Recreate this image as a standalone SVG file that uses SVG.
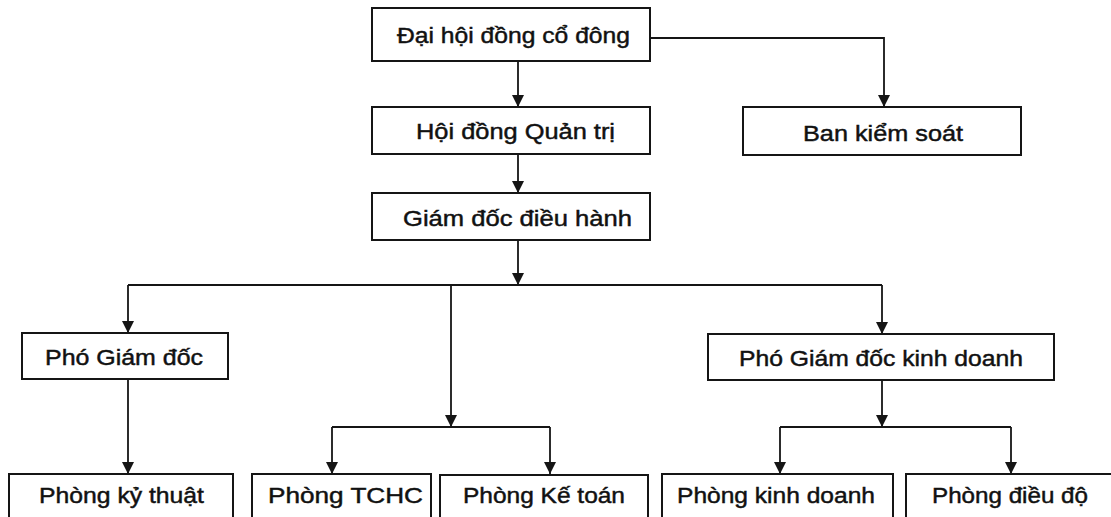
<svg xmlns="http://www.w3.org/2000/svg" width="1111" height="517" viewBox="0 0 1111 517">
<style>
.box{fill:#fff;stroke:#151515;stroke-width:2}
.lbl{font-family:"Liberation Sans",Arial,sans-serif;font-size:22px;fill:#111;stroke:#111;stroke-width:0.45;text-anchor:start}
.ln{fill:none;stroke:#151515;stroke-width:1.8}
</style>
<defs>
<marker id="ah" markerUnits="userSpaceOnUse" markerWidth="12" markerHeight="12" viewBox="0 0 12 12" refX="12" refY="6" orient="auto">
<path d="M0,0 L12,6 L0,12 Z" fill="#151515"/>
</marker>
</defs>
<rect width="1111" height="517" fill="#fff"/>
<g id="connectors">
<path class="ln" d="M518,61 V107" marker-end="url(#ah)"/>
<path class="ln" d="M518,154 V193" marker-end="url(#ah)"/>
<path class="ln" d="M650,38 H884 V107" marker-end="url(#ah)"/>
<path class="ln" d="M518,240 V285" marker-end="url(#ah)"/>
<path class="ln" d="M128,285 H882"/>
<path class="ln" d="M128,285 V333" marker-end="url(#ah)"/>
<path class="ln" d="M882,285 V334" marker-end="url(#ah)"/>
<path class="ln" d="M451,285 V427" marker-end="url(#ah)"/>
<path class="ln" d="M332,427 H550"/>
<path class="ln" d="M332,427 V474" marker-end="url(#ah)"/>
<path class="ln" d="M550,427 V474" marker-end="url(#ah)"/>
<path class="ln" d="M128,379 V474" marker-end="url(#ah)"/>
<path class="ln" d="M882,380 V427" marker-end="url(#ah)"/>
<path class="ln" d="M780,427 H1011"/>
<path class="ln" d="M780,427 V474" marker-end="url(#ah)"/>
<path class="ln" d="M1011,427 V474" marker-end="url(#ah)"/>
</g>
<g id="n-dhdcd">
<rect class="box" x="372" y="8" width="278" height="53"/>
<text class="lbl" x="397" y="43" font-size="24" textLength="233" lengthAdjust="spacingAndGlyphs">Đại hội đồng cổ đông</text>
</g>
<g id="n-hdqt">
<rect class="box" x="372" y="107" width="278" height="47"/>
<text class="lbl" x="416" y="139" textLength="199" lengthAdjust="spacingAndGlyphs">Hội đồng Quản trị</text>
</g>
<g id="n-bks">
<rect class="box" x="743" y="107" width="278" height="48"/>
<text class="lbl" x="803" y="141" textLength="160" lengthAdjust="spacingAndGlyphs">Ban kiểm soát</text>
</g>
<g id="n-gddh">
<rect class="box" x="372" y="193" width="278" height="47"/>
<text class="lbl" x="403" y="226" textLength="229" lengthAdjust="spacingAndGlyphs">Giám đốc điều hành</text>
</g>
<g id="n-pgd">
<rect class="box" x="22" y="333" width="206" height="46"/>
<text class="lbl" x="45" y="365" textLength="158" lengthAdjust="spacingAndGlyphs">Phó Giám đốc</text>
</g>
<g id="n-pgdkd">
<rect class="box" x="708" y="334" width="346" height="46"/>
<text class="lbl" x="739" y="366" textLength="284" lengthAdjust="spacingAndGlyphs">Phó Giám đốc kinh doanh</text>
</g>
<g id="n-pkt">
<rect class="box" x="9" y="474" width="224" height="52"/>
<text class="lbl" x="39" y="503" textLength="165" lengthAdjust="spacingAndGlyphs">Phòng kỷ thuật</text>
</g>
<g id="n-tchc">
<rect class="box" x="252" y="474" width="179" height="52"/>
<text class="lbl" x="268" y="503" textLength="155" lengthAdjust="spacingAndGlyphs">Phòng TCHC</text>
</g>
<g id="n-ketoan">
<rect class="box" x="440" y="475" width="208" height="51"/>
<text class="lbl" x="463" y="503" textLength="162" lengthAdjust="spacingAndGlyphs">Phòng Kế toán</text>
</g>
<g id="n-kd">
<rect class="box" x="662" y="474" width="231" height="52"/>
<text class="lbl" x="677" y="503" textLength="198" lengthAdjust="spacingAndGlyphs">Phòng kinh doanh</text>
</g>
<g id="n-dd">
<rect class="box" x="906" y="474" width="215" height="52"/>
<text class="lbl" x="932" y="503" textLength="156" lengthAdjust="spacingAndGlyphs">Phòng điều độ</text>
</g>
</svg>
